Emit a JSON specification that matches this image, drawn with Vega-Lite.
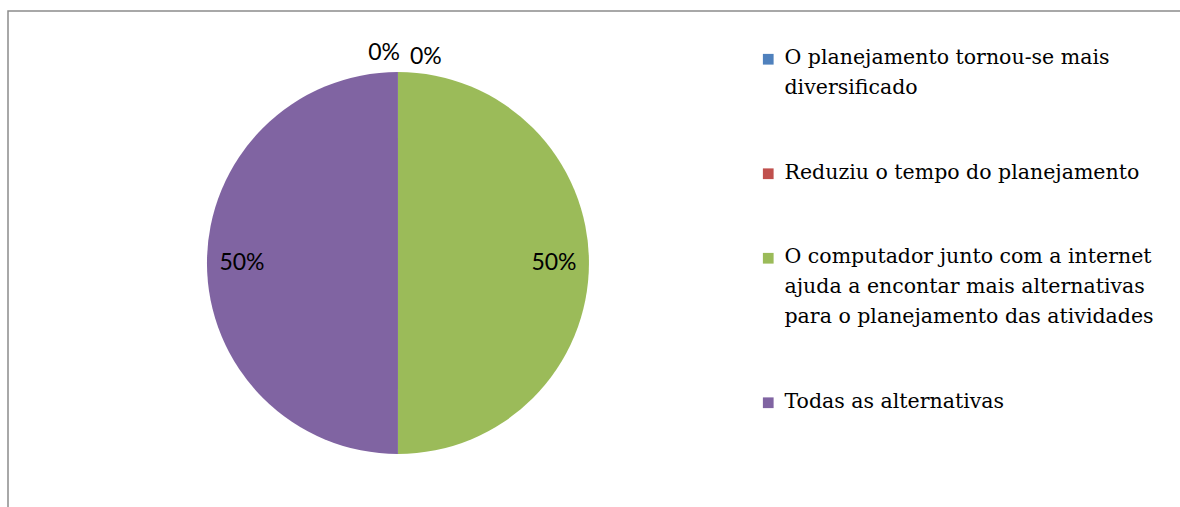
{
  "$schema": "https://vega.github.io/schema/vega-lite/v6.json",
  "width": 1176,
  "height": 500,
  "autosize": {"type": "none"},
  "padding": {"left": 8, "top": 11, "right": -4, "bottom": -4},
  "background": "white",
  "config": {
    "view": {"stroke": "#8c8c8c", "strokeWidth": 1.5},
    "legend": {"labelFont": "DejaVu Serif", "labelFontSize": 20.5}
  },
  "data": {"values": [
    {"categoria": "O planejamento tornou-se mais\ndiversificado", "percentual": 0, "rotulo": "0%"},
    {"categoria": "Reduziu o tempo do planejamento", "percentual": 0, "rotulo": "0%"},
    {"categoria": "O computador junto com a internet\najuda a encontar mais alternativas\npara o planejamento das atividades", "percentual": 50, "rotulo": "50%"},
    {"categoria": "Todas as alternativas", "percentual": 50, "rotulo": "50%"}
  ]},
  "encoding": {
    "theta": {"field": "percentual", "type": "quantitative", "stack": true},
    "x": {"datum": 0.3316, "type": "quantitative", "scale": {"domain": [0, 1]}, "axis": null},
    "y": {"datum": 0.496, "type": "quantitative", "scale": {"domain": [0, 1]}, "axis": null}
  },
  "layer": [
    {
      "mark": {"type": "arc", "outerRadius": 191},
      "encoding": {
        "color": {
          "field": "categoria",
          "type": "nominal",
          "scale": {
            "domain": [
              "O planejamento tornou-se mais\ndiversificado",
              "Reduziu o tempo do planejamento",
              "O computador junto com a internet\najuda a encontar mais alternativas\npara o planejamento das atividades",
              "Todas as alternativas"
            ],
            "range": ["#4F81BD", "#C0504D", "#9BBB59", "#8064A2"]
          },
          "legend": {
            "title": null,
            "orient": "none",
            "legendX": 750,
            "legendY": 38,
            "padding": 0,
            "symbolType": "square",
            "symbolSize": 115,
            "symbolStrokeWidth": 0,
            "labelColor": "black",
            "labelLimit": 600,
            "labelOffset": 6,
            "labelBaseline": "top",
            "rowPadding": 63.5,
            "labelExpr": "split(datum.label, '\\n')",
            "encode": {"labels": {"update": {
              "lineHeight": {"value": 30},
              "dy": {"value": -11}
            }}}
          }
        }
      }
    },
    {
      "transform": [{"filter": "datum.percentual > 0"}],
      "mark": {"type": "text", "radius": 156, "font": "Lato", "fontSize": 23, "color": "black"},
      "encoding": {
        "detail": {"field": "categoria", "type": "nominal"},
        "text": {"field": "rotulo", "type": "nominal"}
      }
    },
    {
      "transform": [{"filter": "datum.categoria == 'Reduziu o tempo do planejamento'"}],
      "mark": {"type": "text", "radius": 208, "font": "Lato", "fontSize": 23, "color": "black", "align": "left", "dx": 12, "dy": 2},
      "encoding": {
        "text": {"field": "rotulo", "type": "nominal"}
      }
    },
    {
      "transform": [{"filter": "indexof(datum.categoria, 'O planejamento') == 0"}],
      "mark": {"type": "text", "radius": 210, "font": "Lato", "fontSize": 23, "color": "black", "align": "right", "dx": 2},
      "encoding": {
        "text": {"field": "rotulo", "type": "nominal"}
      }
    }
  ]
}
